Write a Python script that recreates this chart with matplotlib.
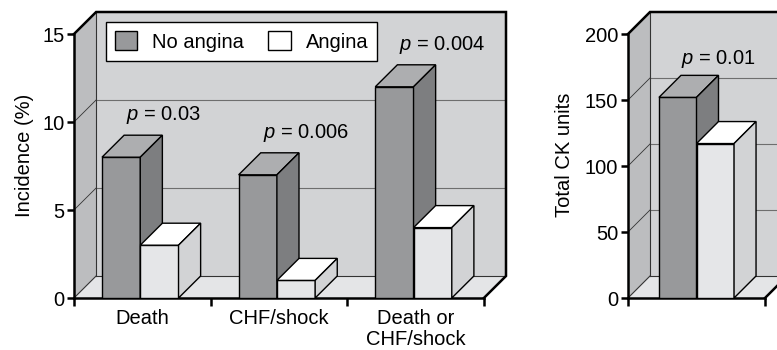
import matplotlib
matplotlib.use("Agg")
import matplotlib.pyplot as plt
from matplotlib.patches import Polygon, Rectangle

plt.rcParams['font.family'] = ['Liberation Sans', 'DejaVu Sans']
plt.rcParams['mathtext.fontset'] = 'custom'
plt.rcParams['mathtext.rm'] = 'Liberation Sans'
plt.rcParams['mathtext.it'] = 'Liberation Sans:italic'

# left panel data
categories = ['Death', 'CHF/shock', 'Death or\nCHF/shock']
no_angina = [8, 7, 12]
angina = [3, 1, 4]
p_left = ['0.03', '0.006', '0.004']

# right panel data
ck_no_angina = [152]
ck_angina = [117]
p_right = ['0.01']

series_names = ['No angina', 'Angina']

W, H = 777, 350
DEPTH = 22  # pixels
FS = 14.5

# colours
BACK = '#d2d3d5'
SIDE = '#bcbdbf'
FLOOR = '#e4e5e7'
DARK = ('#98999b', '#adaeb0', '#7d7e80')    # front, top, side
LIGHT = ('#e5e6e8', '#ffffff', '#d2d3d5')


def px_axes(fig, x0, x1, y0, y1):
    return fig.add_axes([x0 / W, (H - y1) / H, (x1 - x0) / W, (y1 - y0) / H])


def box3d(ax, x, w, h, dx, dy, cols):
    front, top, side = cols
    ax.bar(x, h, width=w, align='edge', color=front, edgecolor='black',
           linewidth=1.0, zorder=3)
    ax.add_patch(Polygon([(x, h), (x + w, h), (x + w + dx, h + dy), (x + dx, h + dy)],
                         closed=True, fc=top, ec='black', lw=1.0, zorder=3))
    ax.add_patch(Polygon([(x + w, 0), (x + w + dx, dy), (x + w + dx, h + dy), (x + w, h)],
                         closed=True, fc=side, ec='black', lw=1.0, zorder=3))


def panel(ax, ncat, ymax, ystep, dx, dy, grid):
    x0, x1 = -0.5, ncat - 0.5
    ax.set_xlim(x0, x1 + dx)
    ax.set_ylim(0, ymax + dy)
    for s in ['top', 'right']:
        ax.spines[s].set_visible(False)
    ax.spines['left'].set_bounds(0, ymax)
    ax.spines['bottom'].set_bounds(x0, x1)
    ax.spines['left'].set_linewidth(1.8)
    ax.spines['bottom'].set_linewidth(1.8)
    ax.set_facecolor('none')
    # walls
    ax.add_patch(Polygon([(x0 + dx, dy), (x1 + dx, dy), (x1 + dx, ymax + dy), (x0 + dx, ymax + dy)],
                         closed=True, fc=BACK, ec='none', zorder=0))
    ax.add_patch(Polygon([(x0, 0), (x0 + dx, dy), (x0 + dx, ymax + dy), (x0, ymax)],
                         closed=True, fc=SIDE, ec='none', zorder=0))
    ax.add_patch(Polygon([(x0, 0), (x1, 0), (x1 + dx, dy), (x0 + dx, dy)],
                         closed=True, fc=FLOOR, ec='none', zorder=0))
    # grid lines
    for g in grid:
        ax.plot([x0 + dx, x1 + dx], [g + dy, g + dy], color='#6e6e6e', lw=0.8, zorder=1)
        ax.plot([x0, x0 + dx], [g, g + dy], color='#333333', lw=0.6, zorder=1)
    ax.plot([x0 + dx, x1 + dx], [dy, dy], color='#333333', lw=0.8, zorder=1)
    ax.plot([x0 + dx, x0 + dx], [dy, ymax + dy], color='#333333', lw=0.8, zorder=1)
    ax.plot([x0, x0 + dx], [0, dy], color='#333333', lw=0.8, zorder=1)
    # outer frame
    ax.plot([x0, x0 + dx, x1 + dx, x1 + dx, x1], [ymax, ymax + dy, ymax + dy, dy, 0],
            color='black', lw=1.8, zorder=4, clip_on=False, solid_joinstyle='miter')
    ax.set_yticks(list(range(0, ymax + 1, ystep)))
    ax.set_xticks([x0 + i for i in range(ncat + 1)])
    ax.set_xticklabels([])
    ax.tick_params(axis='both', direction='out', length=5, width=1.8, labelsize=FS, pad=2)
    ax.tick_params(axis='x', length=6)


fig = plt.figure(figsize=(W / 100, H / 100), dpi=100)

# ---- left panel ----
ax1 = px_axes(fig, 74, 506, 12, 298)
dx1 = DEPTH / 136
dy1 = DEPTH / 17.6
panel(ax1, len(categories), 15, 5, dx1, dy1, [5, 10])
bw = 0.28
for i in range(len(categories)):
    box3d(ax1, i - bw - 0.015, bw, no_angina[i], dx1, dy1, DARK)
    box3d(ax1, i - 0.015, bw, angina[i], dx1, dy1, LIGHT)
    ax1.annotate('$p$ = ' + p_left[i], xy=(i - 0.12, no_angina[i] + dy1), xytext=(0, 14.5),
                 textcoords='offset points', ha='left', va='center', fontsize=FS, zorder=5)
    ax1.text(i, -0.6, categories[i], ha='center', va='top', fontsize=FS, linespacing=1.15)
ax1.set_ylabel('Incidence (%)', fontsize=FS, labelpad=6)

# legend box
leg = ax1.legend(handles=[Rectangle((0, 0), 1, 1, fc=DARK[0], ec='black', lw=1.0),
                          Rectangle((0, 0), 1, 1, fc='white', ec='black', lw=1.0)],
                 labels=series_names, ncol=2, loc='upper left',
                 bbox_to_anchor=(32 / 432, 1 - 10 / 286), fontsize=FS, frameon=True,
                 fancybox=False, edgecolor='black', handlelength=1.1, handleheight=1.1,
                 handletextpad=0.75, columnspacing=1.2, borderpad=0.45, borderaxespad=0)
leg.get_frame().set_linewidth(1.0)
leg.get_frame().set_alpha(1)
leg.set_zorder(6)

# ---- right panel ----
ax2 = px_axes(fig, 628, 787, 12, 298)
dx2 = DEPTH / 137
dy2 = DEPTH / 1.32
panel(ax2, 1, 200, 50, dx2, dy2, [50, 100, 150])
bw2 = 0.274
for i in range(len(ck_no_angina)):
    box3d(ax2, i - bw2, bw2, ck_no_angina[i], dx2, dy2, DARK)
    box3d(ax2, i, bw2, ck_angina[i], dx2, dy2, LIGHT)
    ax2.annotate('$p$ = ' + p_right[i], xy=(i - 0.11, ck_no_angina[i] + dy2), xytext=(0, 12),
                 textcoords='offset points', ha='left', va='center', fontsize=FS, zorder=5)
ax2.set_ylabel('Total CK units', fontsize=FS, labelpad=8)

fig.savefig('out.png', dpi=100)
